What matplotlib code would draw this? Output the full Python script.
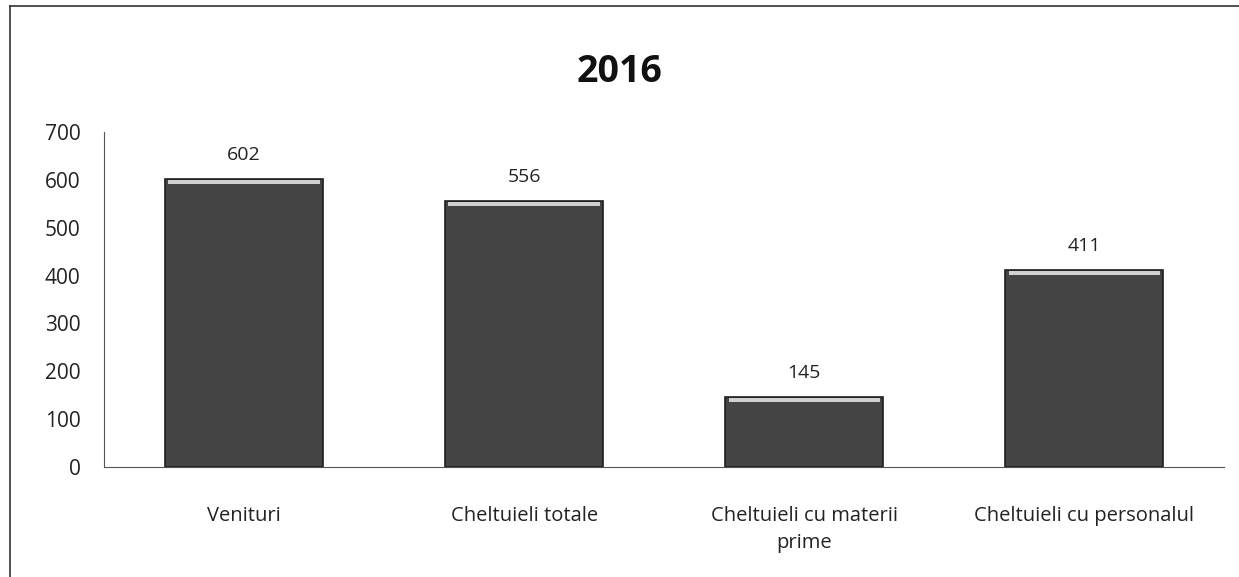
import numpy as np
import matplotlib.pyplot as plt
from matplotlib.lines import Line2D

# Data
categories = ["Venituri", "Cheltuieli totale", "Cheltuieli cu materii\nprime", "Cheltuieli cu personalul"]
values = [602, 556, 145, 411]
yticks = [0, 100, 200, 300, 400, 500, 600, 700]

plt.rcParams['font.family'] = ['Open Sans', 'DejaVu Sans']

fig = plt.figure(figsize=(12.39, 5.77), dpi=100)
ax = fig.add_axes([0.084, 0.191, 0.904, 0.58])

x = np.arange(len(categories))
bars = ax.bar(x, values, width=0.565, color='#444444', edgecolor='#1e1e1e', linewidth=1.2, zorder=2)
# light highlight along the top of each bar
ax.bar(x, [8 for v in values], bottom=[v - 10 for v in values], width=0.54,
       color='#d0d0d0', zorder=3)

for xi, v in zip(x, values):
    ax.annotate(str(v), (xi, v), textcoords='offset points', xytext=(0, 11),
                ha='center', va='bottom', fontsize=14, color='#222222')

ax.set_xlim(-0.5, len(categories) - 0.5)
ax.set_ylim(0, 700)
ax.set_yticks(yticks)
ax.set_xticks(x)
ax.set_xticklabels(categories, fontsize=14.5, color='#222222', linespacing=1.5)
ax.tick_params(axis='y', length=0, pad=17, labelsize=15, labelcolor='#222222')
ax.tick_params(axis='x', length=0, pad=28)

for s in ['top', 'right']:
    ax.spines[s].set_visible(False)
ax.spines['left'].set_color('#555555')
ax.spines['bottom'].set_color('#555555')

fig.text(0.5, 0.875, "2016", ha='center', va='center', fontsize=27, fontweight='bold', color='#111111')

# outer frame from the scan
fig.add_artist(Line2D([0.008, 0.008], [0.0, 0.99], color='#333333', lw=1.2))
fig.add_artist(Line2D([0.008, 1.0], [0.99, 0.99], color='#333333', lw=1.2))

plt.savefig('out.png', dpi=100)
